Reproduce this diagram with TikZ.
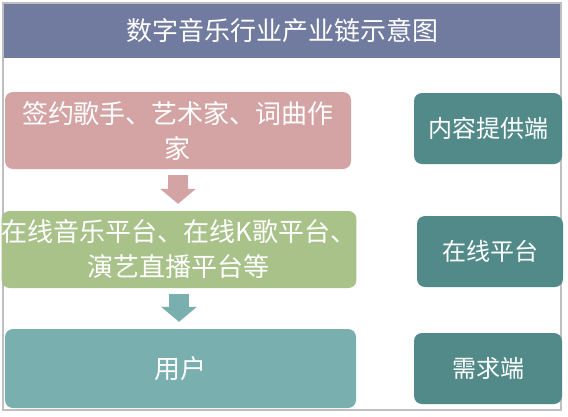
\documentclass[tikz,border=0pt]{standalone}
\usepackage{fontspec}
\newfontfamily\cjk{Noto Sans CJK SC}
\usetikzlibrary{arrows.meta}

\definecolor{barblue}{HTML}{717BA0}
\definecolor{rose}{HTML}{D4A3A4}
\definecolor{sage}{HTML}{A8C28A}
\definecolor{lightteal}{HTML}{7AAFB0}
\definecolor{darkteal}{HTML}{528A8A}
\definecolor{framegray}{HTML}{BFBFBF}

\tikzset{
  chainbox/.style={rounded corners=8pt, inner sep=0pt, align=center, text=white,
    font=\cjk\fontsize{26}{35}\selectfont},
  sidebox/.style={rounded corners=8pt, fill=darkteal, text=white,
    minimum width=148pt, minimum height=71pt, font=\cjk\fontsize{24}{30}\selectfont},
  flowarrow/.style={line width=20pt, -{Triangle[width=35pt,length=15pt]},
    shorten <=6pt, shorten >=7pt}
}

\begin{document}
\begin{tikzpicture}[x=1pt,y=-1pt]

    \useasboundingbox (0,0) rectangle (568,416);

    % Draw the outer frame and the title bar
    \draw[framegray, line width=2pt] (3,3) rectangle (561,410);
    \fill[barblue] (4,4) rectangle (560,58);
    \node[text=white, font=\cjk\fontsize{26}{30}\selectfont] (title) at (282,31) {数字音乐行业产业链示意图};

    % Draw the boxes of the chain
    \node[chainbox, fill=rose, minimum width=346pt, minimum height=77pt] (artists) at (178,130.5) {签约歌手、艺术家、词曲作\\家};
    \node[chainbox, fill=sage, minimum width=350pt, minimum height=77pt] (platforms) at (179,249.5) {在线音乐平台、在线K歌平台、\\演艺直播平台等};
    \node[chainbox, fill=lightteal, minimum width=351pt, minimum height=79pt] (users) at (180.5,368.5) {用户};

    % Draw the arrows between the boxes
    \draw[flowarrow, rose] (artists.south) -- (artists.south |- platforms.north);
    \draw[flowarrow, lightteal] (platforms.south) -- (platforms.south |- users.north);

    % Add the side labels
    \node[sidebox] (supply) at (488,128.5) {内容提供端};
    \node[sidebox, minimum width=146pt] (online) at (490,251.5) {在线平台};
    \node[sidebox] (demand) at (488,368.5) {需求端};

\end{tikzpicture}
\end{document}
